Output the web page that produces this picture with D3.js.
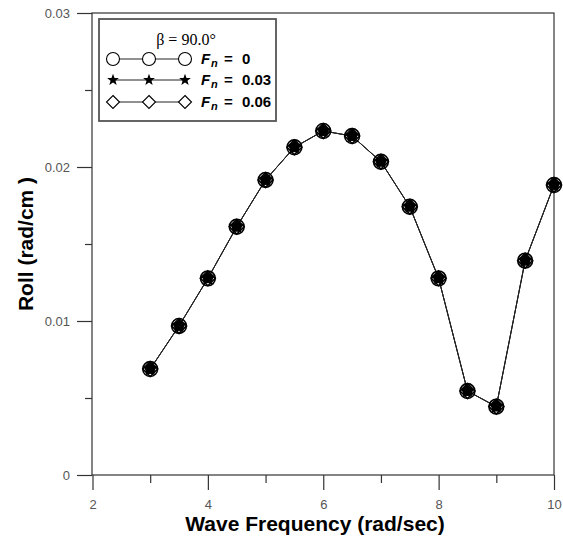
<!DOCTYPE html>
<html><head><meta charset="utf-8">
<script src="https://cdn.jsdelivr.net/npm/d3@7"></script>
<style>body{margin:0;background:#fff}svg{display:block}</style>
</head><body>
<svg id="c" width="563" height="538"></svg>
<script>
const freq = [3,3.5,4,4.5,5,5.5,6,6.5,7,7.5,8,8.5,9,9.5,10];
const rollFn0   = [0.00688,0.00968,0.01277,0.01612,0.01916,0.02128,0.02234,0.02201,0.02034,0.01742,0.01277,0.00545,0.00444,0.01392,0.01883];
const rollFn003 = [0.00688,0.00968,0.01277,0.01612,0.01916,0.02128,0.02234,0.02201,0.02034,0.01742,0.01277,0.00545,0.00444,0.01392,0.01883];
const rollFn006 = [0.00688,0.00968,0.01277,0.01612,0.01916,0.02128,0.02234,0.02201,0.02034,0.01742,0.01277,0.00545,0.00444,0.01392,0.01883];
const xTicks = [2,4,6,8,10];
const xMinor = [3,5,7,9];
const yTicks = [0,0.01,0.02,0.03];
const yMinor = [0.005,0.015,0.025];
const legendLabels = ["0","0.03","0.06"];

const svg = d3.select("#c");
const L=92, R=554, T=13, B=475;
const x = d3.scaleLinear().domain([2,10]).range([L+0.5,R]);
const y = d3.scaleLinear().domain([0,0.03]).range([B,T]);
const axisCol="#333", labCol="#555";
const sans="Arial, 'Liberation Sans', sans-serif";

svg.append("rect").attr("x",L).attr("y",T).attr("width",R-L).attr("height",B-T)
  .attr("fill","none").attr("stroke",axisCol).attr("stroke-width",1.2);

svg.append("g").attr("transform",`translate(0,${B})`)
  .call(d3.axisBottom(x).tickValues(xTicks).tickSize(15).tickPadding(10).tickFormat(d3.format("d")));
svg.append("g").attr("transform",`translate(0,${B})`)
  .call(d3.axisBottom(x).tickValues(xMinor).tickSize(8).tickFormat(""));
svg.append("g").attr("transform",`translate(${L},0)`)
  .call(d3.axisLeft(y).tickValues(yTicks).tickSize(15).tickPadding(7).tickFormat(d=>d===0?"0":d3.format(".2f")(d)));
svg.append("g").attr("transform",`translate(${L},0)`)
  .call(d3.axisLeft(y).tickValues(yMinor).tickSize(7).tickFormat(""));
svg.selectAll(".domain").remove();
svg.selectAll(".tick line").attr("stroke",axisCol).attr("stroke-width",1.2);
svg.selectAll(".tick text").attr("fill",labCol).style("font-family",sans).style("font-size","13px");

svg.append("text").attr("x",315).attr("y",531).attr("text-anchor","middle")
  .style("font-family",sans).style("font-weight","bold").style("font-size","21px")
  .text("Wave Frequency (rad/sec)");
svg.append("text").attr("transform","translate(33,244) rotate(-90)").attr("text-anchor","middle")
  .style("font-family",sans).style("font-weight","bold").style("font-size","21px")
  .text("Roll (rad/cm )");

function starPath(R0, r0){
  let p=[];
  for(let i=0;i<10;i++){
    const a=-Math.PI/2+i*Math.PI/5, rr=i%2?r0:R0;
    p.push([rr*Math.cos(a), rr*Math.sin(a)]);
  }
  return "M"+p.map(q=>q[0].toFixed(2)+","+q[1].toFixed(2)).join("L")+"Z";
}
function drawMarker(g, type, cx, cy, s){
  if(type===0){
    g.append("circle").attr("cx",cx).attr("cy",cy).attr("r",s).attr("fill","none").attr("stroke","#000").attr("stroke-width",1.6);
  } else if(type===1){
    g.append("path").attr("transform",`translate(${cx},${cy})`).attr("d",starPath(s*1.0,s*0.6)).attr("fill","#000");
  } else {
    g.append("path").attr("transform",`translate(${cx},${cy})`)
      .attr("d",`M0,${-s}L${s},0L0,${s}L${-s},0Z`).attr("fill","none").attr("stroke","#000").attr("stroke-width",1.6);
  }
}

const series=[rollFn0,rollFn003,rollFn006];
const line=d3.line().x((d,i)=>x(freq[i])).y(d=>y(d));
series.forEach(s=>{
  svg.append("path").datum(s).attr("d",line).attr("fill","none").attr("stroke","#222").attr("stroke-width",1);
});
const gm=svg.append("g");
series.forEach((s,k)=>{
  s.forEach((v,i)=>drawMarker(gm,k,x(freq[i]),y(v),7.4));
});
series[1].forEach((v,i)=>{
  gm.append("circle").attr("cx",x(freq[i])).attr("cy",y(v)).attr("r",5.0).attr("fill","#000");
});

const lg=svg.append("g");
lg.append("rect").attr("x",99).attr("y",19).attr("width",177).attr("height",102)
  .attr("fill","#fff").attr("stroke","#555").attr("stroke-width",1.8);
lg.append("text").attr("x",186).attr("y",45).attr("text-anchor","middle")
  .style("font-family","'Liberation Serif','Times New Roman',serif").style("font-size","16px").text("β = 90.0°");
const rowsY=[59,80,102];
const mx=[113,149,185];
rowsY.forEach((ry,k)=>{
  lg.append("line").attr("x1",mx[0]).attr("x2",mx[2]).attr("y1",ry).attr("y2",ry).attr("stroke","#222").attr("stroke-width",1);
  mx.forEach(cx=>{
    if(k===0){ lg.append("circle").attr("cx",cx).attr("cy",ry).attr("r",6.5).attr("fill","#fff").attr("stroke","#000").attr("stroke-width",1.1); }
    else if(k===1){ lg.append("path").attr("transform",`translate(${cx},${ry})`).attr("d",starPath(6.2,2.6)).attr("fill","#000"); }
    else { lg.append("path").attr("transform",`translate(${cx},${ry})`).attr("d","M0,-6.5L6.5,0L0,6.5L-6.5,0Z").attr("fill","#fff").attr("stroke","#000").attr("stroke-width",1.1); }
  });
  const by=ry+5;
  const st=s=>s.style("font-family",sans).style("font-weight","bold");
  st(lg.append("text").attr("x",201).attr("y",by).style("font-size","15px").style("font-style","italic").text("F"));
  st(lg.append("text").attr("x",211).attr("y",by+3).style("font-size","11px").style("font-style","italic").text("n"));
  st(lg.append("text").attr("x",224).attr("y",by).style("font-size","15px").text("="));
  st(lg.append("text").attr("x",242).attr("y",by).style("font-size","15px").text(legendLabels[k]));
});
</script>
</body></html>
